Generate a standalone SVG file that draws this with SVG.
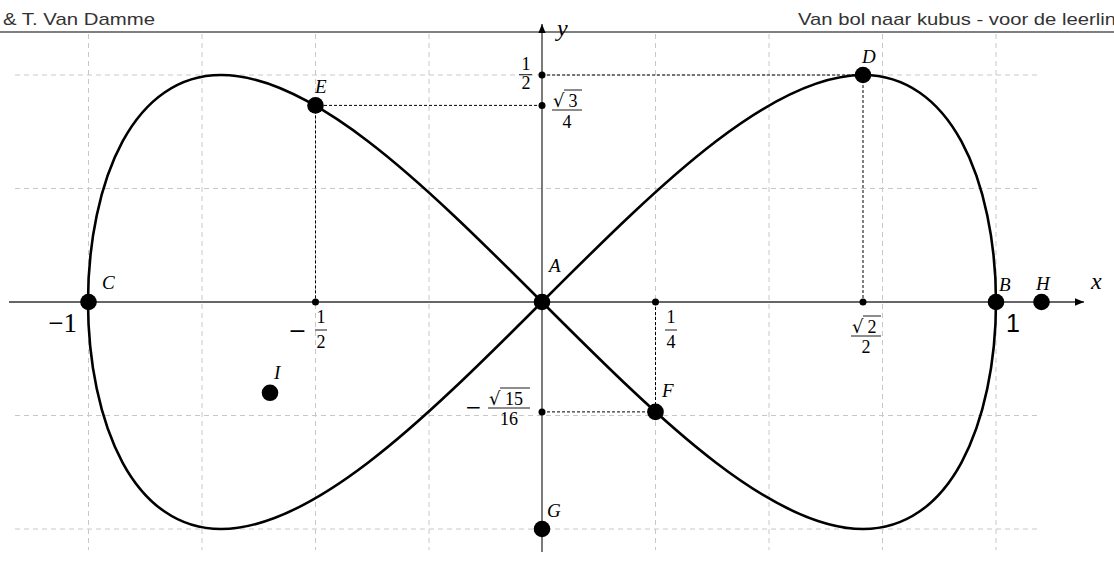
<svg xmlns="http://www.w3.org/2000/svg" width="1114" height="581" viewBox="0 0 1114 581">
<defs>
<style>
.grid{stroke:#c8c8c8;stroke-width:1;stroke-dasharray:5 4;fill:none}
.axis{stroke:#333;stroke-width:1.3;fill:none}
.dot{stroke:#000;stroke-width:1;stroke-dasharray:3 2;fill:none}
.curve{stroke:#000;stroke-width:2.6;fill:none}
.pt{fill:#000}
.lbl{font-family:"Liberation Serif","DejaVu Serif",serif;font-style:italic;font-size:19px;fill:#000}
.num{font-family:"Liberation Serif","DejaVu Serif",serif;font-size:18px;fill:#000}
.rad{font-family:"DejaVu Serif","Liberation Serif",serif;font-size:18px;fill:#000}
.minus{font-family:"DejaVu Serif","Liberation Serif",serif;fill:#000}
.bar{stroke:#000;stroke-width:0.9}
.hdr{font-family:"Liberation Sans","DejaVu Sans",sans-serif;font-size:17px;fill:#333}
</style>
<marker id="arr" markerWidth="10" markerHeight="10" refX="0" refY="0" viewBox="-16 -7 17 14" orient="auto" markerUnits="userSpaceOnUse">
<path d="M-16,-6.5 L0,0 L-16,6.5 Z" fill="#000"/>
</marker>
</defs>
<rect width="1114" height="581" fill="#fff"/>
<g id="header">
<text class="hdr" x="3" y="25" textLength="152" lengthAdjust="spacingAndGlyphs">&amp; T. Van Damme</text>
<text class="hdr" x="798" y="25" textLength="318" lengthAdjust="spacingAndGlyphs">Van bol naar kubus - voor de leerlin</text>
<line x1="0" y1="32" x2="1114" y2="32" stroke="#555" stroke-width="1.3"/>
</g>
<g id="grid">
<line class="grid" x1="88.5" y1="34" x2="88.5" y2="550"/>
<line class="grid" x1="202" y1="34" x2="202" y2="550"/>
<line class="grid" x1="315.5" y1="34" x2="315.5" y2="550"/>
<line class="grid" x1="429" y1="34" x2="429" y2="550"/>
<line class="grid" x1="655.5" y1="34" x2="655.5" y2="550"/>
<line class="grid" x1="769" y1="34" x2="769" y2="550"/>
<line class="grid" x1="882.5" y1="34" x2="882.5" y2="550"/>
<line class="grid" x1="996" y1="34" x2="996" y2="550"/>
<line class="grid" x1="15" y1="75" x2="1040" y2="75"/>
<line class="grid" x1="15" y1="188.5" x2="1040" y2="188.5"/>
<line class="grid" x1="15" y1="415.5" x2="1040" y2="415.5"/>
<line class="grid" x1="15" y1="529" x2="1040" y2="529"/>
</g>
<g id="connectors">
<line class="axis" x1="9" y1="302" x2="1084" y2="302" marker-end="url(#arr)"/>
<line class="axis" x1="542" y1="552" x2="542" y2="24" marker-end="url(#arr)"/>
<line class="dot" x1="542" y1="75" x2="863" y2="75"/>
<line class="dot" x1="863" y1="75" x2="863" y2="302"/>
<line class="dot" x1="542" y1="105.4" x2="315.5" y2="105.4"/>
<line class="dot" x1="315.5" y1="105.4" x2="315.5" y2="302"/>
<line class="dot" x1="542" y1="411.9" x2="655.5" y2="411.9"/>
<line class="dot" x1="655.5" y1="302" x2="655.5" y2="411.9"/>
<path class="curve" d="M996,302 C996,242.57 984.18,183.51 961.44,141.49 C938.70,99.47 905.05,75 863.03,75 C821.01,75 770.65,99.47 715.74,141.49 C660.83,183.51 601.43,242.57 542,302 C482.57,361.43 423.17,420.49 368.26,462.51 C313.35,504.53 262.99,529 220.97,529 C178.95,529 145.30,504.53 122.56,462.51 C99.82,420.49 88,361.43 88,302 C88,242.57 99.82,183.51 122.56,141.49 C145.30,99.47 178.95,75 220.97,75 C262.99,75 313.35,99.47 368.26,141.49 C423.17,183.51 482.57,242.57 542,302 C601.43,361.43 660.83,420.49 715.74,462.51 C770.65,504.53 821.01,529 863.03,529 C905.05,529 938.70,504.53 961.44,462.51 C984.18,420.49 996,361.43 996,302 Z"/>
</g>
<g id="ticks">
<circle class="pt" cx="542" cy="75" r="3.5"/>
<circle class="pt" cx="542" cy="105.4" r="3.5"/>
<circle class="pt" cx="315.5" cy="302" r="3.5"/>
<circle class="pt" cx="655.5" cy="302" r="3.5"/>
<circle class="pt" cx="863" cy="302" r="3.5"/>
<circle class="pt" cx="542" cy="411.9" r="3.5"/>
<text class="num" x="77" y="332" text-anchor="end" style="font-size:27px">−1</text>
<text x="1006" y="332" style="font-family:'Liberation Sans','DejaVu Sans',sans-serif;font-size:25px;fill:#000">1</text>
<text class="minus" x="297.5" y="337.5" text-anchor="middle" style="font-size:22px">−</text>
<text class="num" x="321" y="323" text-anchor="middle">1</text>
<line class="bar" x1="315" y1="330" x2="327" y2="330"/>
<text class="num" x="321" y="348" text-anchor="middle">2</text>
<text class="num" x="671" y="323" text-anchor="middle">1</text>
<line class="bar" x1="665" y1="330" x2="677" y2="330"/>
<text class="num" x="671" y="348" text-anchor="middle">4</text>
<text class="rad" x="852" y="333">√</text>
<text class="num" x="872" y="333" text-anchor="middle">2</text>
<line class="bar" x1="863" y1="316" x2="881" y2="316"/>
<line class="bar" x1="851" y1="336" x2="881" y2="336"/>
<text class="num" x="866" y="353" text-anchor="middle">2</text>
<text class="num" x="526" y="70" text-anchor="middle">1</text>
<line class="bar" x1="519" y1="74.7" x2="532" y2="74.7"/>
<text class="num" x="526" y="89" text-anchor="middle">2</text>
<text class="rad" x="553" y="107">√</text>
<text class="num" x="573" y="107" text-anchor="middle">3</text>
<line class="bar" x1="564" y1="90" x2="582" y2="90"/>
<line class="bar" x1="552" y1="110" x2="582" y2="110"/>
<text class="num" x="567" y="128" text-anchor="middle">4</text>
<text class="minus" x="473.5" y="414" text-anchor="middle" style="font-size:20px">−</text>
<text class="rad" x="489" y="405">√</text>
<text class="num" x="514" y="405" text-anchor="middle">15</text>
<line class="bar" x1="500" y1="388" x2="530" y2="388"/>
<line class="bar" x1="488" y1="408" x2="530" y2="408"/>
<text class="num" x="509" y="425" text-anchor="middle">16</text>
<text class="lbl" x="1091" y="289" style="font-size:24px">x</text>
<text class="lbl" x="557" y="36" style="font-size:24px">y</text>
</g>
<g id="A"><circle class="pt" cx="542" cy="302" r="8.3"/><text class="lbl" x="549" y="272">A</text></g>
<g id="B"><circle class="pt" cx="996" cy="302" r="8.3"/><text class="lbl" x="999" y="291">B</text></g>
<g id="C"><circle class="pt" cx="88.5" cy="302" r="8.3"/><text class="lbl" x="102" y="289">C</text></g>
<g id="D"><circle class="pt" cx="863" cy="75" r="8.3"/><text class="lbl" x="862" y="63">D</text></g>
<g id="E"><circle class="pt" cx="315.5" cy="105.4" r="8.3"/><text class="lbl" x="315" y="93">E</text></g>
<g id="F"><circle class="pt" cx="655.5" cy="411.9" r="8.3"/><text class="lbl" x="662" y="397">F</text></g>
<g id="G"><circle class="pt" cx="542" cy="529" r="8.3"/><text class="lbl" x="547" y="517">G</text></g>
<g id="H"><circle class="pt" cx="1041.5" cy="302" r="8.3"/><text class="lbl" x="1036" y="290">H</text></g>
<g id="I"><circle class="pt" cx="270" cy="392.8" r="8.3"/><text class="lbl" x="274" y="379">I</text></g>
</svg>
